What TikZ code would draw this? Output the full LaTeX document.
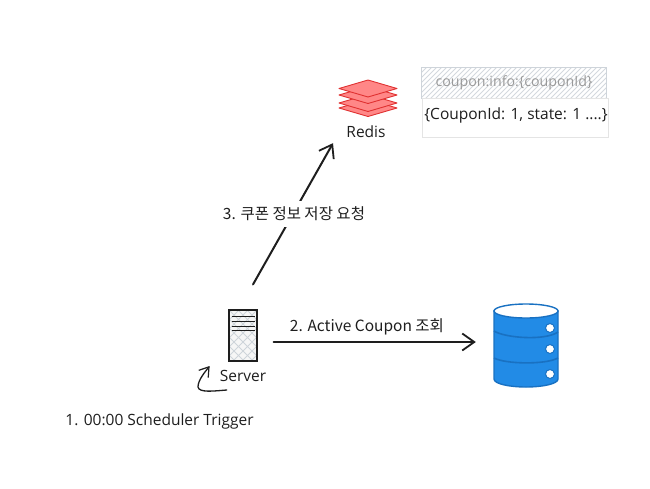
\documentclass[tikz,border=0pt]{standalone}
\usepackage{fontspec}
\setmainfont{Open Sans}
\newfontfamily\krfont{Noto Sans CJK KR}
\usetikzlibrary{arrows.meta,patterns,calc}
\definecolor{ink}{HTML}{1E1E1E}
\definecolor{hatchgray}{HTML}{CED4DA}
\definecolor{dbfill}{HTML}{228BE6}
\definecolor{dbline}{HTML}{1971C2}
\definecolor{rfill}{HTML}{FF8787}
\definecolor{rline}{HTML}{E03131}
\tikzset{
  lbl/.style={font=\fontsize{15.5}{18}\selectfont,text=ink,inner sep=0pt},
  flow/.style={draw=ink,line width=2pt,line cap=round,-{Straight Barb[length=12pt,width=17pt,line width=1.8pt]}},
  swoop/.style={draw=ink,line width=1.3pt,line cap=round,-{Straight Barb[length=9pt,width=12pt,line width=1.2pt]}},
  layer/.style={fill=rfill,draw=rline,line width=.9pt,line join=round},
  band/.style={draw=dbline,line width=1.6pt},
}
\begin{document}
\begin{tikzpicture}[x=1pt,y=-1pt]
\useasboundingbox (0,0) rectangle (650,488);
% Server
\begin{scope}
\clip (229.5,310.5) rectangle (256.5,360.5);
\fill[ink!4] (229.5,310.5) rectangle (256.5,360.5);
\foreach \k in {-63,-54,...,120}{
  \draw[hatchgray,line width=.8pt] (229+\k,310) -- ++(70,70);
  \draw[hatchgray,line width=.8pt] (257-\k,310) -- ++(-70,70);
}
\end{scope}
\node[draw=ink,line width=1.1pt,minimum width=28pt,minimum height=51pt,inner sep=0pt] (srv) at (243,335.5) {};
\foreach \y in {316,321,326,330.5}
  \draw[ink,line width=.9pt] (231.5,\y) -- (254.5,\y);
\node[lbl] (srvl) at (243,376) {Server};
% Redis
\foreach \y in {108,103,95,88.5}
  \draw[layer] (339,\y) -- (368,\y-8.5) -- (397,\y) -- (368,\y+8.5) -- cycle;
\node[inner sep=0pt,minimum width=58pt,minimum height=37pt] (redis) at (368,98) {};
\node[lbl] (redisl) at (366,132) {Redis};
% DB
\fill[dbfill,draw=dbline,line width=1.4pt] (494,311) -- (494,379) .. controls (494,384) and (510,387) .. (526,387) .. controls (542,387) and (558,384) .. (558,379) -- (558,311) -- cycle;
\filldraw[fill=white,draw=dbline,line width=1.4pt] (526,311) ellipse (32pt and 7pt);
\draw[band] (494,331) .. controls (505,338) and (545,341) .. (558,332);
\draw[band] (494,358) .. controls (505,364) and (545,365) .. (558,358);
\foreach \y in {328,349,374}
  \filldraw[fill=white,draw=dbline,line width=1pt] (550,\y) circle (4.5pt);
\node[inner sep=0pt,minimum width=64pt,minimum height=83pt] (db) at (526,345.5) {};
% Coupon table
\begin{scope}
\clip (422,67.5) rectangle (606,98);
\foreach \k in {0,5,...,240}
  \draw[hatchgray!90,line width=.8pt] (422+\k,67) -- ++(-32,32);
\end{scope}
\node[draw=hatchgray,line width=1pt,minimum width=184.5pt,minimum height=31pt,inner sep=0pt,text=gray!80,font=\fontsize{14.2}{17}\selectfont] (keybox) at (514,83) {coupon:info:\{couponId\}};
\node[draw=ink!12,fill=white,line width=.8pt,minimum width=186pt,minimum height=39pt,inner sep=0pt] (valbox) at (515,118) {};
\node[lbl] (valtext) at (516,115.5) {\{CouponId: 1, state: 1 ....\}};
% Connectors
\coordinate (swoopa) at ($(srvl.west)+(7,14)$);
\coordinate (swoopb) at ($(srvl.west)+(-10,-10)$);
\draw[swoop] (swoopa) .. controls (214,391) and (199,393) .. (198,387) .. controls (198,380) and (205,372) .. (swoopb);
\draw[flow] ([xshift=10pt,yshift=25pt]srv.north) -- ([xshift=-33pt,yshift=-5pt]redisl.south);
\draw[flow] ([xshift=16pt,yshift=-6.5pt]srv.east) -- ([xshift=-18pt,yshift=3.5pt]db.west);
% Labels
\node[lbl,fill=white,inner xsep=2pt,inner ysep=6pt] (lab3) at (294,214) {\krfont 3. 쿠폰 정보 저장 요청};
\node[lbl] (lab2) at (367,327) {\krfont 2. Active Coupon 조회};
\node[lbl] (lab1) at (159.5,421.5) {1. 00:00 Scheduler Trigger};
\end{tikzpicture}
\end{document}
